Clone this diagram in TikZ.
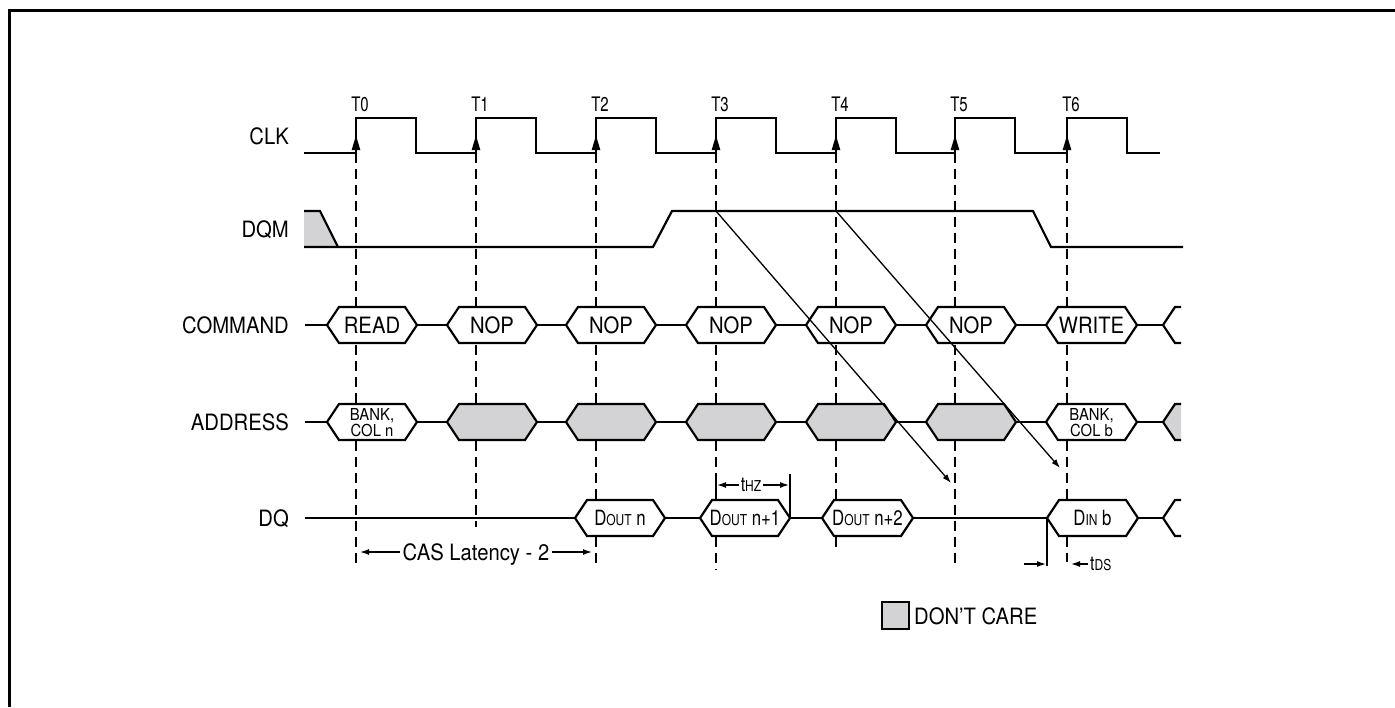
\documentclass[tikz,border=0pt]{standalone}
\usepackage{fontspec}
\setmainfont{TeX Gyre Heros}[FakeStretch=0.9]
\newfontfamily\ticknarrow{TeX Gyre Heros}[FakeStretch=0.75]
\newfontfamily\datanarrow{TeX Gyre Heros}[FakeStretch=0.8]
\usetikzlibrary{arrows.meta}
\definecolor{dontcare}{RGB}{211,211,213}
\newcommand{\lowcaps}[1]{{\fontsize{15}{15}\selectfont #1}}

\begin{document}
\begin{tikzpicture}[x=1pt, y=-1pt,
  wave/.style={line width=2.2pt},
  guide/.style={line width=1.5pt, dash pattern=on 10pt off 6pt},
  busbox/.style={line width=2.2pt, fill=white},
  carebox/.style={line width=2.2pt, fill=dontcare},
  siglabel/.style={anchor=base east, inner sep=0pt, font=\fontsize{22.5}{22.5}\selectfont},
  boxtext/.style={inner sep=0pt, font=\fontsize{22.5}{22.5}\selectfont},
  addrtext/.style={inner sep=0pt, align=center, font=\fontsize{16.5}{13}\selectfont},
  dqtext/.style={inner sep=0pt, font=\datanarrow\fontsize{21}{21}\selectfont},
  ticklabel/.style={anchor=base, inner sep=0pt, font=\ticknarrow\fontsize{20}{20}\selectfont},
  dimarrow/.style={line width=1.3pt, -{Latex[length=9pt,width=6pt]}},
  edgearrow/.style={line width=2.2pt, -{Triangle[length=15pt,width=8pt]}},
]
\useasboundingbox (0,0) rectangle (1395,707);
\draw [line width=3pt] (1395,10) -- (9.5,10) -- (9.5,707);

% signal names
\node [siglabel] (clk)  at (289,144) {CLK};
\node [siglabel] (dqm)  at (289,237) {DQM};
\node [siglabel] (cmd)  at (289,333) {COMMAND};
\node [siglabel] (addr) at (289,430) {ADDRESS};
\node [siglabel] (dq)   at (289,526) {DQ};

% clock edge guides
\foreach \t/\e in {356/565, 476/527, 596/565, 716/570, 836/548, 955/565, 1067/562}
  \draw [guide] (\t,153) -- (\t,\e);

% CLK
\draw [wave] (304,153) \foreach \t in {356,476,596,716,836,955,1067} {
  -- (\t,153) -- (\t,118) -- (\t+60,118) -- (\t+60,153) } -- (1160,153);
\foreach \t [count=\k from 0] in {356,476,596,716,836,955,1067} {
  \draw [edgearrow] (\t,153) -- (\t,135);
  \node [ticklabel] (T\k) at (\t+4,111) {T\k};
}

% DQM
\fill [dontcare] (304,211) -- (320,211) -- (338,247) -- (304,247) -- cycle;
\draw [wave] (304,211) -- (320,211) -- (338,247);
\draw [wave] (304,247) -- (653,247) -- (672,211) -- (1033,211) -- (1051,247) -- (1183,247);

% COMMAND
\draw [wave] (305,325) -- (1163,325);
\foreach \l/\r/\txt [count=\k] in {327/417/READ, 447/537/NOP, 566/656/NOP, 686/776/NOP,
    806/896/NOP, 926/1016/NOP, 1046/1137/WRITE} {
  \draw [busbox] (\l,325) -- (\l+12,307) -- (\r-12,307) -- (\r,325) -- (\r-12,343) -- (\l+12,343) -- cycle;
  \node [boxtext] (op\k) at ({(\l+\r)/2},325) {\txt};
}
\draw [busbox] (1181,307) -- (1175,307) -- (1163,325) -- (1175,343) -- (1181,343);

% ADDRESS
\draw [wave] (305,422) -- (1163,422);
\foreach \l/\r in {447/537, 566/656, 686/776, 806/896, 926/1016}
  \draw [carebox] (\l,422) -- (\l+12,404) -- (\r-12,404) -- (\r,422) -- (\r-12,440) -- (\l+12,440) -- cycle;
\foreach \l/\r/\txt [count=\k] in {327/417/{BANK,\\COL n}, 1046/1137/{BANK,\\COL b}} {
  \draw [busbox] (\l,422) -- (\l+12,404) -- (\r-12,404) -- (\r,422) -- (\r-12,440) -- (\l+12,440) -- cycle;
  \node [addrtext] (bank\k) at ({(\l+\r)/2},423) {\txt};
}
\draw [carebox] (1181,404) -- (1175,404) -- (1163,422) -- (1175,440) -- (1181,440);

% DQ
\draw [wave] (305,518) -- (1163,518);
\foreach \l/\r/\txt [count=\k] in {575/665/{D\lowcaps{OUT} n}, 700/790/{D\lowcaps{OUT} n+1},
    822/913/{D\lowcaps{OUT} n+2}, 1047/1138/{D\lowcaps{IN} b}} {
  \draw [busbox] (\l,518) -- (\l+12,500) -- (\r-12,500) -- (\r,518) -- (\r-12,536) -- (\l+12,536) -- cycle;
  \node [dqtext] (data\k) at ({(\l+\r)/2},518) {\txt};
}
\draw [busbox] (1181,500) -- (1175,500) -- (1163,518) -- (1175,536) -- (1181,536);

% DQM to DQ
\coordinate (m3) at (716,211);
\coordinate (m4) at (836,211);
\coordinate (hz3) at (951,483);
\coordinate (hz4) at (1060,468);
\draw [line width=1.3pt, -{Latex[length=9pt,width=6pt]}] (m3) -- (hz3);
\draw [line width=1.3pt, -{Latex[length=9pt,width=6pt]}] (m4) -- (hz4);

% tHZ
\draw [line width=1.3pt] (790,474) -- (790,518);
\draw [line width=1.3pt] (716,479) -- (716,491);
\node [dqtext, font=\datanarrow\fontsize{20}{20}\selectfont, inner sep=2pt] (thz) at (751,485) {t\lowcaps{HZ}};
\coordinate (thzl) at (717,485);
\coordinate (thzr) at (789,485);
\draw [dimarrow] (thz.west) -- (thzl);
\draw [dimarrow] (thz.east) -- (thzr);

% CAS latency
\node [inner sep=3pt, text depth=0pt, font=\fontsize{22.5}{22.5}\selectfont] (cas) at (476,552) {CAS Latency - 2};
\coordinate (casl) at (360,552);
\coordinate (casr) at (592,552);
\draw [dimarrow] (cas.west) -- (casl);
\draw [dimarrow] (cas.east) -- (casr);

% tDS
\draw [line width=1.3pt] (1047,518) -- (1047,566);
\coordinate (dsa) at (1024,564);
\coordinate (dsb) at (1046,564);
\coordinate (dsc) at (1071,564);
\draw [dimarrow] (dsa) -- (dsb);
\node [anchor=west, inner sep=2pt, font=\datanarrow\fontsize{20}{20}\selectfont] (tds) at (1088,564) {t\lowcaps{DS}};
\draw [dimarrow] (tds.west) -- (dsc);

% legend
\draw [carebox] (882,602) rectangle (909,629);
\node [anchor=base west, inner sep=0pt, font=\fontsize{22.5}{22.5}\selectfont] (care) at (914,624) {DON'T CARE};
\end{tikzpicture}
\end{document}
